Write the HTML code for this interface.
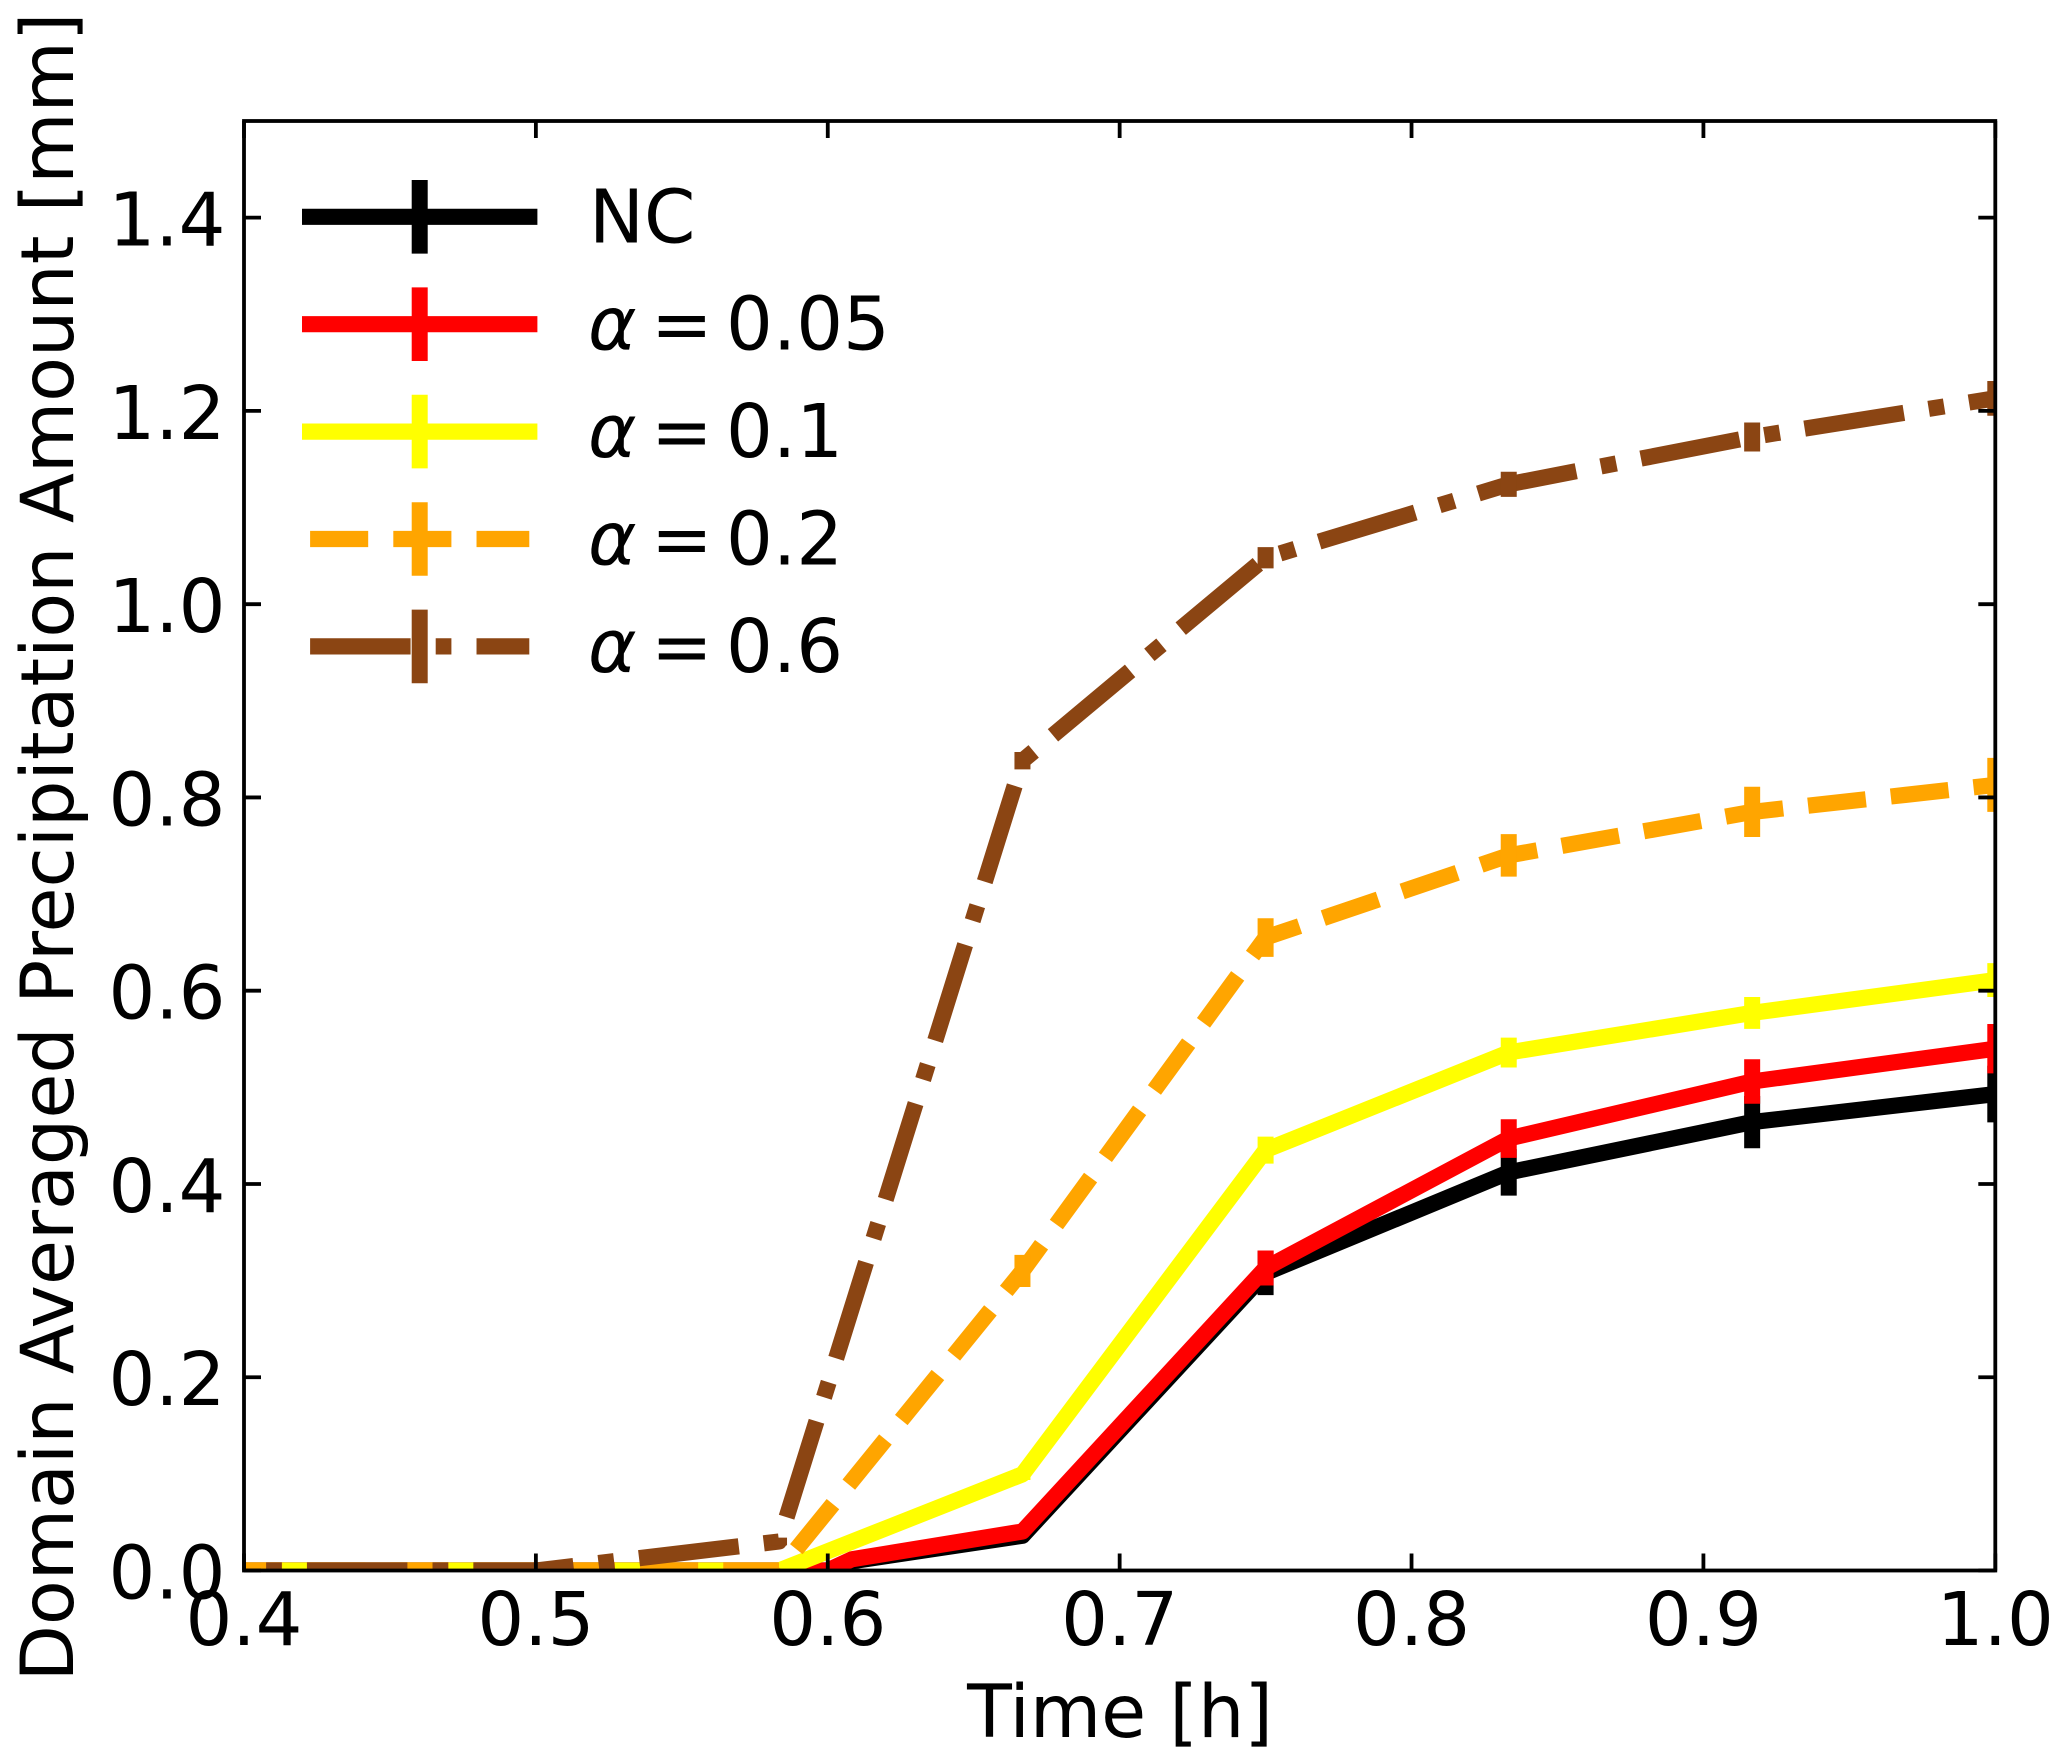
<!DOCTYPE html>
<html><head><meta charset="utf-8"><title>Domain averaged precipitation</title>
<style>html,body{margin:0;padding:0;background:#fff}svg{display:block}text{font-family:"DejaVu Sans",sans-serif;fill:#000}</style>
</head><body>
<svg id="c" width="2067" height="1764" viewBox="0 0 2067 1764" xmlns="http://www.w3.org/2000/svg">
<defs><clipPath id="ax"><rect x="244" y="121" width="1751.3" height="1449.5"/></clipPath></defs>
<g id="series" clip-path="url(#ax)"></g>
<g id="frame"></g>
<text x="1120" y="1737" font-size="73.2" text-anchor="middle">Time [h]</text>
<text transform="translate(73,847) rotate(-90)" font-size="73.2" text-anchor="middle">Domain Averaged Precipitation Amount [mm]</text>
<g id="legend"></g>
</svg>
<script>
const times = [0.4, 0.5, 0.5833, 0.6667, 0.75, 0.8333, 0.9167, 1.0];
const timesFine = [0.4, 0.5, 0.5833, 0.6, 0.6083, 0.6667, 0.75, 0.8333, 0.9167, 1.0];
const ncValues = [0, 0, 0, 0, 0.0095, 0.036, 0.308, 0.412, 0.464, 0.493];
const ncErrors = [0, 0, 0, 0, 0, 0.002, 0.023, 0.024, 0.027, 0.0293];
const a005Values = [0, 0, 0, 0, 0.0117, 0.0404, 0.313, 0.447, 0.506, 0.54];
const a005Errors = [0, 0, 0, 0, 0, 0.003, 0.0181, 0.02, 0.023, 0.0256];
const a01Values = [0, 0, 0, 0.0996, 0.435, 0.536, 0.577, 0.611];
const a01Errors = [0, 0, 0, 0.006, 0.014, 0.0155, 0.0165, 0.0175];
const a02Values = [0, 0, 0, 0.31, 0.655, 0.74, 0.785, 0.813];
const a02Errors = [0, 0, 0, 0.0166, 0.02, 0.022, 0.026, 0.028];
const a06Values = [0, 0, 0.03, 0.838, 1.048, 1.124, 1.173, 1.213];
const a06Errors = [0, 0, 0.004, 0.009, 0.011, 0.013, 0.015, 0.018];
const xTickLabels = ['0.4', '0.5', '0.6', '0.7', '0.8', '0.9', '1.0'];
const yTickLabels = ['0.0', '0.2', '0.4', '0.6', '0.8', '1.0', '1.2', '1.4'];
const legendLabels = ['NC', '0.05', '0.1', '0.2', '0.6'];

const NS = 'http://www.w3.org/2000/svg';
const L = 244, R = 1995.3, T = 121, B = 1570.5, LW = 16.2, DU = 15.7;
const xs = t => L + (t - 0.4) / 0.6 * (R - L);
const ys = v => B - v / 1.5 * (B - T);
function mk(tag, parent, attrs) {
  const e = document.createElementNS(NS, tag);
  for (const k in attrs) e.setAttribute(k, attrs[k]);
  parent.appendChild(e);
  return e;
}
const dash = DU * 3.7 + ' ' + DU * 1.6;
const dashDot = DU * 6.4 + ' ' + DU * 1.6 + ' ' + DU + ' ' + DU * 1.6;
const styles = [
  {key: 'nc', t: timesFine, v: ncValues, e: ncErrors, color: '#000000', da: null, off: 0},
  {key: 'alpha-005', t: timesFine, v: a005Values, e: a005Errors, color: '#ff0000', da: null, off: 0},
  {key: 'alpha-01', t: times, v: a01Values, e: a01Errors, color: '#ffff00', da: null, off: 0},
  {key: 'alpha-02', t: times, v: a02Values, e: a02Errors, color: '#ffa500', da: dash, off: 20},
  {key: 'alpha-06', t: times, v: a06Values, e: a06Errors, color: '#8b4513', da: dashDot, off: 103.5}
];
const gS = document.getElementById('series');
styles.forEach(s => {
  const pts = s.t.map((t, i) => xs(t).toFixed(1) + ',' + ys(s.v[i]).toFixed(1)).join(' ');
  const line = mk('polyline', gS, {points: pts, fill: 'none', stroke: s.color, 'stroke-width': LW, 'stroke-linejoin': 'round', 'stroke-linecap': s.da ? 'butt' : 'square'});
  
  
  if (s.da) { line.setAttribute('stroke-dasharray', s.da); line.setAttribute('stroke-dashoffset', s.off); }
  s.t.forEach((t, i) => {
    if (!s.e[i]) return;
    const bar = mk('line', gS, {x1: xs(t), x2: xs(t), y1: ys(s.v[i] - s.e[i]), y2: ys(s.v[i] + s.e[i]), stroke: s.color, 'stroke-width': 16});
    
    
  });
});
const gF = document.getElementById('frame');
const TL = 17, TW = 3.8, FS = 73.6;
xTickLabels.forEach(lab => {
  const x = xs(+lab);
  const b = mk('line', gF, {x1: x, x2: x, y1: B, y2: B - TL, stroke: '#000', 'stroke-width': TW});
  
  
  const t = mk('line', gF, {x1: x, x2: x, y1: T, y2: T + TL, stroke: '#000', 'stroke-width': TW});
  
  
  const tx = mk('text', gF, {x: x, y: 1645, 'font-size': FS, 'text-anchor': 'middle'});
  tx.textContent = lab;
  
  
});
yTickLabels.forEach(lab => {
  const y = ys(+lab);
  const a = mk('line', gF, {x1: L, x2: L + TL, y1: y, y2: y, stroke: '#000', 'stroke-width': TW});
  
  
  const r = mk('line', gF, {x1: R, x2: R - TL, y1: y, y2: y, stroke: '#000', 'stroke-width': TW});
  
  
  const tx = mk('text', gF, {x: 225.5, y: y + 28, 'font-size': FS, 'text-anchor': 'end'});
  tx.textContent = lab;
  
  
});
const spine = mk('rect', gF, {x: L, y: T, width: R - L, height: B - T, fill: 'none', stroke: '#000', 'stroke-width': TW});



const gL = document.getElementById('legend');
legendLabels.forEach((lab, i) => {
  const s = styles[i], y = 216.8 + i * 107.4;
  const line = mk('line', gL, {x1: 310.1, x2: 529.3, y1: y, y2: y, stroke: s.color, 'stroke-width': LW, 'stroke-linecap': s.da ? 'butt' : 'square'});
  
  
  if (s.da) line.setAttribute('stroke-dasharray', s.da);
  const bar = mk('line', gL, {x1: 419.7, x2: 419.7, y1: y - 36.8, y2: y + 36.8, stroke: s.color, 'stroke-width': 16});
  
  
  const tx = mk('text', gL, {x: 589, y: y + 25.5, 'font-size': FS});
  
  
  if (i === 0) { tx.textContent = lab; return; }
  const al = mk('tspan', tx, {'font-style': 'italic', x: 588});
  al.textContent = 'α';
  const eq = mk('tspan', tx, {x: 651});
  eq.textContent = '=';
  const num = mk('tspan', tx, {x: 726});
  num.textContent = lab;
});
</script>
</body></html>
